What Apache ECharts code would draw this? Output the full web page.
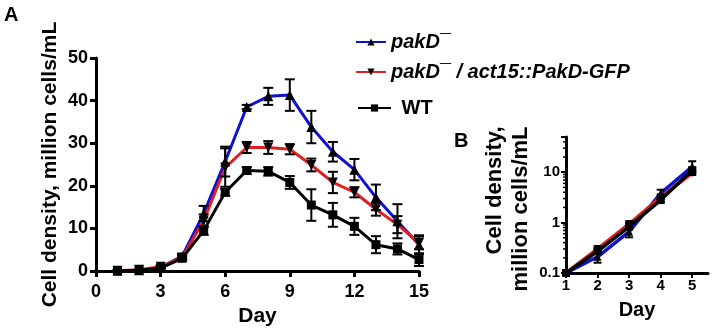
<!DOCTYPE html>
<html><head><meta charset="utf-8">
<script src="https://cdn.jsdelivr.net/npm/echarts@6/dist/echarts.min.js"></script>
<style>html,body{margin:0;padding:0;background:#fff}#c{width:714px;height:332px}</style>
</head><body><div id="c"></div>
<script>
// Panel A data (days 1..15)
const daysA = [1,2,3,4,5,6,7,8,9,10,11,12,13,14,15];
const pakD = [0.1,0.2,0.8,3.5,13.5,25.7,38.5,41,41.3,33.8,28,23.8,17.3,11.7,6.2];
const pakDErr = [0.1,0.1,0.3,0.5,1.8,3.5,0.5,2,3.7,3.8,2.3,2.5,3,4,2.2];
const rescue = [0.1,0.3,1.0,3.2,11.8,24.3,29,29,28.6,24.9,20.8,18.5,14.5,10.9,6.6];
const rescueErr = [0.1,0.1,0.3,0.5,1.5,4.5,1.3,1.5,1.2,1.5,2.5,1.2,1.5,2,1.5];
const wt = [0.1,0.2,0.7,3.0,9.5,18.5,23.6,23.4,20.8,15.5,13.2,10.5,6.2,5.2,2.7];
const wtErr = [0.1,0.1,0.2,0.5,1,0.8,0.8,1,1.5,3.7,2.8,2,2,1.3,1.5];
const ticksAx = [0,3,6,9,12,15];
const ticksAy = [0,10,20,30,40,50];
// Panel B data (days 1..5, log scale)
const daysB = [1,2,3,4,5];
const pakDB = [0.1,0.21,0.66,3.8,13];
const pakDBErr = [0.005,0.05,0.15,0.7,3.5];
const rescueB = [0.1,0.3,0.94,3.2,9.6];
const rescueBErr = [0.005,0.03,0.08,0.3,0.8];
const wtB = [0.1,0.27,0.83,2.8,11];
const wtBErr = [0.005,0.03,0.08,0.25,1];
const ticksBy = [0.1,1,10];

const FONT = 'Liberation Sans';
const names = ['pakD', 'rescue', 'WT'];
const colors = ['#1010d0', '#e02020', '#000000'];
const symbols = ['triangle', 'triangle', 'rect'];
const rots = [0, 180, 0];

function pairs(xs, ys){ return xs.map((x,i)=>[x, ys[i]]); }
function triples(xs, ys, es){ return xs.map((x,i)=>[x, ys[i], es[i]]); }

function errRender(cap){
  return function(params, api){
    const x = api.value(0), y = api.value(1), e = api.value(2);
    const lo = Math.max(y - e, 1e-6);
    const p1 = api.coord([x, y + e]);
    const p2 = api.coord([x, lo]);
    const st = {stroke:'#000', lineWidth:2};
    return {type:'group', children:[
      {type:'line', shape:{x1:p1[0], y1:p1[1], x2:p2[0], y2:p2[1]}, style:st},
      {type:'line', shape:{x1:p1[0]-cap, y1:p1[1], x2:p1[0]+cap, y2:p1[1]}, style:st},
      {type:'line', shape:{x1:p2[0]-cap, y1:p2[1], x2:p2[0]+cap, y2:p2[1]}, style:st}
    ]};
  };
}

const seriesA = [[pakD,pakDErr],[rescue,rescueErr],[wt,wtErr]];
const seriesB = [[pakDB,pakDBErr],[rescueB,rescueBErr],[wtB,wtBErr]];

const series = [];
seriesA.forEach((s,i)=>{
  series.push({name:names[i], type:'line', xAxisIndex:0, yAxisIndex:0, data:pairs(daysA, s[0]),
    symbol:symbols[i], symbolRotate:rots[i], symbolSize: i===2?9:10,
    lineStyle:{color:colors[i], width:3}, itemStyle:{color:'#000'}, z:3, animation:false});
});
seriesA.forEach((s,i)=>{
  series.push({type:'custom', xAxisIndex:0, yAxisIndex:0, data:triples(daysA, s[0], s[1]),
    renderItem:errRender(5), z:4, silent:true, animation:false});
});
seriesB.forEach((s,i)=>{
  series.push({name:names[i], type:'line', xAxisIndex:1, yAxisIndex:1, data:pairs(daysB, s[0]),
    symbol:symbols[i], symbolRotate:rots[i], symbolSize:8,
    lineStyle:{color:colors[i], width:3.5}, itemStyle:{color:'#000'}, z:3, animation:false});
});
seriesB.forEach((s,i)=>{
  series.push({type:'custom', xAxisIndex:1, yAxisIndex:1, data:triples(daysB, s[0], s[1]),
    renderItem:errRender(4), z:4, silent:true, animation:false});
});
// minor log ticks on panel B y axis
const minorB = [];
[0.1,1,10].forEach(d=>{ for(let k=2;k<=9;k++){ const v=d*k; if(v<=50) minorB.push([1, v]); } });
series.push({type:'custom', xAxisIndex:1, yAxisIndex:1, data:minorB, clip:false, silent:true, animation:false,
  renderItem:function(params, api){
    const p = api.coord([api.value(0), api.value(1)]);
    return {type:'line', shape:{x1:p[0]-3, y1:p[1], x2:p[0], y2:p[1]}, style:{stroke:'#000', lineWidth:1.5}};
  }});

const axisLineS = {show:true, lineStyle:{color:'#000', width:3}};
const LFS = 20;
const legendText = {fontFamily:FONT, fontSize:LFS, fontWeight:'bold', fontStyle:'italic', color:'#000'};

const option = {
  backgroundColor:'#fff',
  animation:false,
  textStyle:{fontFamily:FONT},
  grid:[
    {left:96, right:295, top:58, bottom:60},
    {left:566, right:6, top:137, bottom:59}
  ],
  legend:[
    {data:['pakD'], left:350, top:27, itemWidth:30, itemHeight:9,
     formatter:()=>'pakD\u00AF', textStyle:legendText, selectedMode:false},
    {data:['rescue'], left:350, top:57, itemWidth:30, itemHeight:9,
     formatter:()=>'pakD\u00AF / act15::PakD-GFP', textStyle:legendText, selectedMode:false},
    {data:['WT'], left:352, top:93, itemWidth:33, itemHeight:9,
     formatter:()=>' WT', textStyle:Object.assign({}, legendText, {fontStyle:'normal'}), selectedMode:false}
  ],
  graphic:[
    {type:'text', left:4, top:5, style:{text:'A', font:'bold 20px "Liberation Sans"', fill:'#000'}},
    {type:'text', left:454, top:131, style:{text:'B', font:'bold 20px "Liberation Sans"', fill:'#000'}}
  ],
  xAxis:[
    {gridIndex:0, type:'value', min:ticksAx[0], max:ticksAx[ticksAx.length-1], interval:3,
     name:'Day', nameLocation:'middle', nameGap:31,
     nameTextStyle:{fontFamily:FONT, fontSize:21, fontWeight:'bold', color:'#000'},
     axisLine:axisLineS, axisTick:{show:true, length:6, lineStyle:{width:3, color:'#000'}},
     axisLabel:{fontFamily:FONT, fontSize:18, fontWeight:'bold', color:'#000', margin:12},
     splitLine:{show:false}},
    {gridIndex:1, type:'value', min:1, max:5.5, interval:1,
     name:'Day', nameLocation:'middle', nameGap:27,
     nameTextStyle:{fontFamily:FONT, fontSize:20, fontWeight:'bold', color:'#000'},
     axisLine:axisLineS, axisTick:{show:true, length:5, lineStyle:{width:2, color:'#000'}},
     axisLabel:{fontFamily:FONT, fontSize:15, fontWeight:'bold', color:'#000', margin:5, showMaxLabel:false,
       formatter:v=> Number.isInteger(v)? String(v):''},
     splitLine:{show:false}}
  ],
  yAxis:[
    {gridIndex:0, type:'value', min:ticksAy[0], max:ticksAy[ticksAy.length-1], interval:10,
     name:'Cell density, million cells/mL', nameLocation:'middle', nameGap:35,
     nameTextStyle:{fontFamily:FONT, fontSize:21, fontWeight:'bold', color:'#000'},
     axisLine:axisLineS, axisTick:{show:true, length:6, lineStyle:{width:3, color:'#000'}},
     axisLabel:{fontFamily:FONT, fontSize:18, fontWeight:'bold', color:'#000', margin:8},
     splitLine:{show:false}},
    {gridIndex:1, type:'log', logBase:10, min:0.1, max:50,
     name:'{a|Cell density,}\n{a|million cells/mL}', nameLocation:'middle', nameGap:32,
     nameTextStyle:{fontFamily:FONT, fontSize:22, fontWeight:'bold', color:'#000', padding:[0,18,0,0],
       rich:{a:{fontFamily:FONT, fontSize:22, fontWeight:'bold', color:'#000', width:175, align:'right', lineHeight:26}}},
     axisLine:axisLineS, axisTick:{show:true, length:5, lineStyle:{width:2, color:'#000'}},
     axisLabel:{fontFamily:FONT, fontSize:15, fontWeight:'bold', color:'#000', margin:6,
       formatter:v=> ticksBy.some(t=>Math.abs(t-v)<1e-9) ? String(v) : ''},
     splitLine:{show:false}}
  ],
  series:series
};
const chart = echarts.init(document.getElementById('c'), null, {renderer:'canvas'});
chart.setOption(option);
</script></body></html>
